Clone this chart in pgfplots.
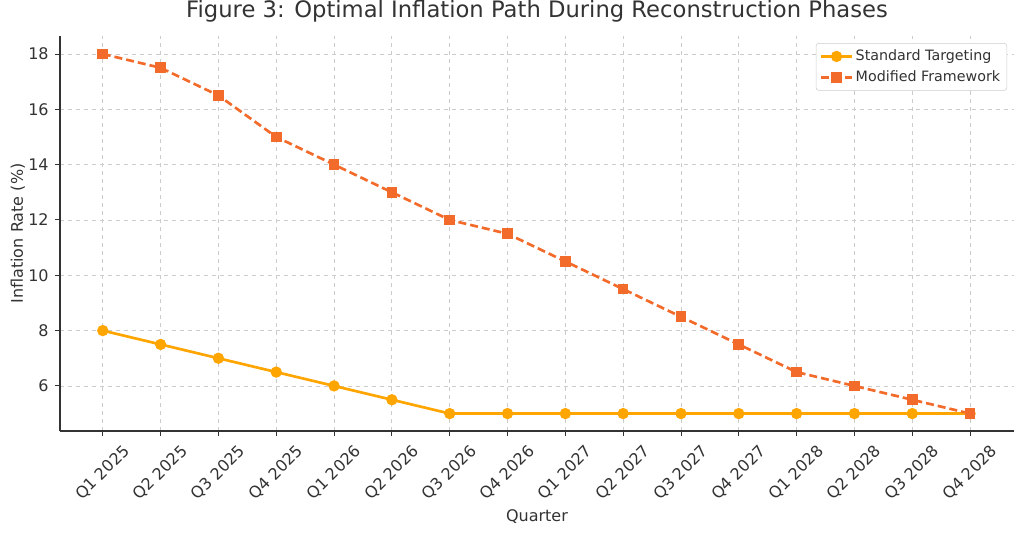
\documentclass[border=0pt]{standalone}
\usepackage{pgfplots}
\pgfplotsset{compat=1.18}
\usepackage{fontspec}
\setmainfont{DejaVu Sans}
\definecolor{stdc}{HTML}{FFA500}
\definecolor{modc}{HTML}{F26B2A}
\definecolor{txt}{HTML}{333333}
\definecolor{gridc}{HTML}{CCCCCC}
\begin{document}
\begin{tikzpicture}
\path[use as bounding box] (0,0) rectangle (768pt,399.75pt);
\begin{axis}[
  at={(45pt,76.5pt)}, anchor=south west,
  scale only axis, width=715.5pt, height=296.25pt,
  xmin=-0.74, xmax=15.76, ymin=4.37, ymax=18.65,
  axis x line*=bottom, axis y line*=left,
  axis line style={txt, line width=0.9pt, -},
  xtick={0,...,15},
  xticklabels={Q1 2025,Q2 2025,Q3 2025,Q4 2025,Q1 2026,Q2 2026,Q3 2026,Q4 2026,Q1 2027,Q2 2027,Q3 2027,Q4 2027,Q1 2028,Q2 2028,Q3 2028,Q4 2028},
  ytick={6,8,...,18},
  tick align=outside, major tick length=4pt,
  tick style={txt, line width=0.7pt},
  every tick label/.append style={font=\fontsize{12}{14}\selectfont, text=txt},
  /pgf/number format/assume math mode=true,
  xticklabel style={yshift=-27.5pt, rotate=45, anchor=center},
  yticklabel style={xshift=-1pt},
  grid=major, major grid style={gridc, dashed, line width=0.6pt},
  title={Figure 3: Optimal Inflation Path During Reconstruction Phases},
  title style={font=\fontsize{17}{20}\selectfont, text=txt, at={(0.5,1)}, anchor=south, yshift=1pt},
  xlabel={Quarter}, ylabel={Inflation Rate (\%)},
  label style={font=\fontsize{12}{14}\selectfont, text=txt},
  xlabel style={yshift=3pt},
  ylabel style={yshift=-4.5pt},
  legend style={at={(0.9927,0.982)}, anchor=north east, draw=gridc, rounded corners=2pt,
    font=\fontsize{10.7}{13}\selectfont, text=txt, row sep=2pt, inner sep=3pt},
  legend cell align=left,
  legend image code/.code={\draw[mark repeat=2,mark phase=2,#1] plot coordinates {(0cm,0cm) (0.4cm,0cm) (0.8cm,0cm)};},
]
\addplot[stdc, line width=2pt, mark=*, mark size=3.2pt, mark options={solid}] coordinates {
(0,8) (1,7.5) (2,7) (3,6.5) (4,6) (5,5.5) (6,5) (7,5) (8,5) (9,5) (10,5) (11,5) (12,5) (13,5) (14,5) (15,5)};
\addlegendentry{Standard Targeting}
\addplot[modc, line width=2pt, dash pattern=on 6pt off 3pt, mark=square*, mark size=3pt, mark options={solid}] coordinates {
(0,18) (1,17.5) (2,16.5) (3,15) (4,14) (5,13) (6,12) (7,11.5) (8,10.5) (9,9.5) (10,8.5) (11,7.5) (12,6.5) (13,6) (14,5.5) (15,5)};
\addlegendentry{Modified Framework}
\end{axis}
\end{tikzpicture}
\end{document}
